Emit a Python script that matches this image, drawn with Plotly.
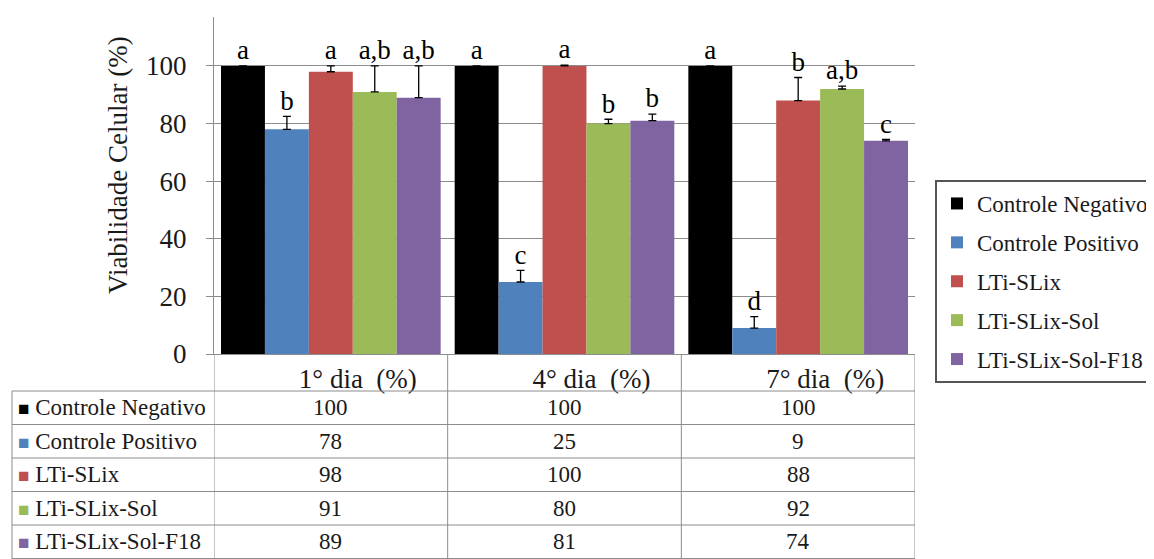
import plotly.graph_objects as go

# dados
dias = ["1° dia\u00a0 (%)", "4° dia\u00a0 (%)", "7° dia\u00a0 (%)"]
grupos = ["Controle Negativo", "Controle Positivo", "LTi-SLix", "LTi-SLix-Sol", "LTi-SLix-Sol-F18"]
cores = ["#000000", "#4F81BD", "#C0504D", "#9BBB59", "#8064A2"]

controle_negativo = [100, 100, 100]
controle_positivo = [78, 25, 9]
lti_slix = [98, 100, 88]
lti_slix_sol = [91, 80, 92]
lti_slix_sol_f18 = [89, 81, 74]

erro_negativo = [0, 0, 0]
erro_positivo = [4.5, 4, 4]
erro_slix = [2, 0.3, 8]
erro_sol = [9, 1.5, 1]
erro_f18 = [11, 2.3, 0.5]

letras_negativo = ["a", "a", "a"]
letras_positivo = ["b", "c", "d"]
letras_slix = ["a", "a", "b"]
letras_sol = ["a,b", "b", "a,b"]
letras_f18 = ["a,b", "b", "c"]

valores = [controle_negativo, controle_positivo, lti_slix, lti_slix_sol, lti_slix_sol_f18]
erros = [erro_negativo, erro_positivo, erro_slix, erro_sol, erro_f18]
letras = [letras_negativo, letras_positivo, letras_slix, letras_sol, letras_f18]

# a página tem 8px de margem no body
OFF = 8
W, H = 1154 - OFF, 559 - OFF
FONTE = "Liberation Serif, Times New Roman, serif"
CINZA = "#8c8c8c"
TXT = "#1a1a1a"


def px_x(x):
    return (x - OFF) / W


def px_y(y):
    return 1 - (y - OFF) / H


fig = go.Figure()

for i, nome in enumerate(grupos):
    fig.add_trace(go.Bar(
        x=dias, y=valores[i], name=nome, marker_color=cores[i],
        marker_line_width=0, offsetgroup=str(i), legendgroup=str(i),
        error_y=dict(type="data", array=erros[i], arrayminus=[0] * 3,
                     symmetric=False, color="black", thickness=1.3, width=4),
    ))

for i, nome in enumerate(grupos):
    topo = [v + e for v, e in zip(valores[i], erros[i])]
    fig.add_trace(go.Scatter(
        x=dias, y=topo, mode="text", text=letras[i], textposition="top center",
        textfont=dict(family=FONTE, size=27, color="black"),
        offsetgroup=str(i), showlegend=False, hoverinfo="skip",
    ))

# tabela de dados abaixo do gráfico
tab_topo = 391
linha_h = 33.5
anots = []
shapes = []

for i, nome in enumerate(grupos):
    yc = tab_topo + linha_h * (i + 0.5)
    anots.append(dict(
        xref="paper", yref="paper", x=px_x(16), y=px_y(yc), xanchor="left", yanchor="middle",
        text=f'<span style="color:{cores[i]};font-size:19px">■</span> {nome}',
        showarrow=False, font=dict(family=FONTE, size=23, color=TXT),
    ))
    for j, d in enumerate(dias):
        anots.append(dict(
            xref="x", yref="paper", x=d, y=px_y(yc), yanchor="middle",
            text=str(valores[i][j]), showarrow=False,
            font=dict(family=FONTE, size=23, color=TXT),
        ))

for k in range(len(grupos) + 1):
    y = tab_topo + linha_h * k
    shapes.append(dict(type="line", xref="paper", yref="paper",
                       x0=px_x(12), x1=px_x(915), y0=px_y(y), y1=px_y(y),
                       line=dict(color=CINZA, width=1)))

shapes.append(dict(type="line", xref="paper", yref="paper",
                   x0=px_x(12), x1=px_x(12), y0=px_y(tab_topo), y1=0,
                   line=dict(color=CINZA, width=1)))
for b in [-0.5, 0.5, 1.5, 2.5]:
    shapes.append(dict(type="line", xref="x", yref="paper",
                       x0=b, x1=b, y0=px_y(354), y1=0,
                       line=dict(color=CINZA, width=1)))

anots.append(dict(
    xref="paper", yref="paper", x=px_x(118), y=px_y(165),
    xanchor="center", yanchor="middle",
    text="Viabilidade Celular (%)", textangle=-90, showarrow=False,
    font=dict(family=FONTE, size=27, color=TXT),
))

fig.update_layout(
    width=W, height=H,
    margin=dict(l=0, r=0, t=0, b=0, autoexpand=False),
    paper_bgcolor="white", plot_bgcolor="white",
    barmode="group", bargap=0.06, bargroupgap=0,
    scattermode="group", scattergap=0.06,
    font=dict(family=FONTE, color=TXT),
    xaxis=dict(domain=[px_x(214), px_x(915)], range=[-0.5, 2.5],
               showline=True, linecolor=CINZA, showgrid=False, ticks="",
               tickfont=dict(family=FONTE, size=27, color=TXT),
               ticklabelshift=27, ticklabelstandoff=1),
    yaxis=dict(domain=[px_y(354), px_y(17)], range=[0, 117], dtick=20,
               showgrid=True, gridcolor=CINZA, zeroline=False,
               showline=True, linecolor=CINZA, ticks="outside", ticklen=7,
               tickcolor=CINZA, tickfont=dict(family=FONTE, size=27, color=TXT),
               ticklabelstandoff=14),
    legend=dict(x=px_x(935), y=px_y(180), xanchor="left", yanchor="top",
                bordercolor="#555555", borderwidth=2, bgcolor="white",
                font=dict(family=FONTE, size=23, color=TXT), tracegroupgap=6,
                traceorder="grouped"),
    annotations=anots,
    shapes=shapes,
    showlegend=True,
)

fig.write_html("out.html")
